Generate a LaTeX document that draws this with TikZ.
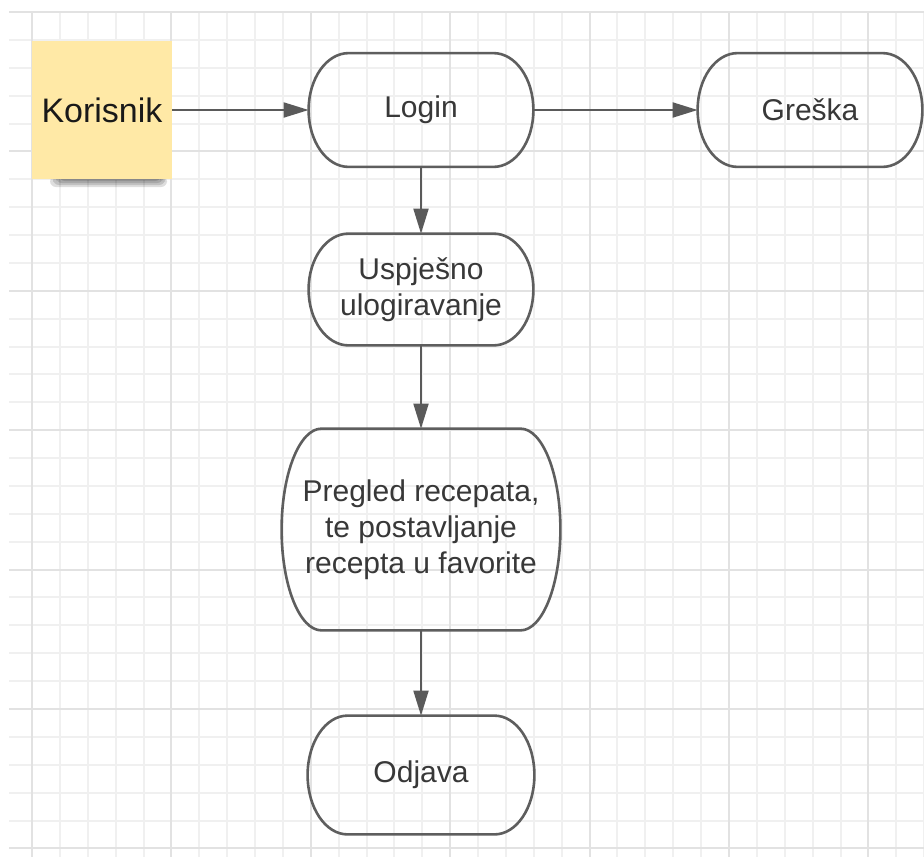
\documentclass[tikz,border=0pt]{standalone}
\usepackage{fontspec}
\setmainfont{Liberation Sans}
\usetikzlibrary{arrows.meta,calc}
\definecolor{grid_minor}{RGB}{240,240,240}
\definecolor{grid_major}{RGB}{226,226,226}
\definecolor{node_gray}{RGB}{94,94,94}
\definecolor{edge_gray}{RGB}{90,90,90}
\definecolor{text_gray}{RGB}{56,56,56}
\definecolor{note_yellow}{RGB}{255,233,166}

\begin{document}
\begin{tikzpicture}[x=0.5pt,y=-0.5pt,>={Triangle[length=12.5pt,width=7.5pt]},line join=round]
    \tikzstyle{term}=[inner sep=0pt, text=text_gray, align=center, font=\fontsize{15}{18}\selectfont]
    \tikzstyle{outline}=[draw=node_gray, line width=1.3pt]
    \tikzstyle{note}=[inner sep=0pt, fill=note_yellow, text=black!90, minimum width=70pt, minimum height=69pt, font=\fontsize{17}{20}\selectfont]
    \tikzstyle{flow}=[draw=edge_gray, line width=1pt, ->]

    \useasboundingbox (0,0) rectangle (924,857);
    \fill[white] (0,0) rectangle (924,857);

    % grid
    \foreach \i in {0,...,30}
        \draw[grid_minor, line width=1pt] (9,12+\i*27.88) -- (924,12+\i*27.88);
    \foreach \j in {0,...,32}
        \draw[grid_minor, line width=1pt] (32+\j*27.88,12) -- (32+\j*27.88,857);
    \foreach \i in {0,...,6}
        \draw[grid_major, line width=1pt] (9,12+\i*139.4) -- (924,12+\i*139.4);
    \foreach \j in {0,...,6}
        \draw[grid_major, line width=1pt] (32+\j*139.4,12) -- (32+\j*139.4,857);

    % sticky note with shadow
    \foreach \o in {0,1,2,3}
        \fill[black, opacity=0.13, rounded corners=3pt] (50+\o*3,176) rectangle (167-\o*2,187-\o*2);
    \node[note] (korisnik) at (102,110) {Korisnik};

    \node[term, minimum width=112pt, minimum height=56.5pt] (login)    at (421,110)   {Login};
    \node[term, minimum width=112pt, minimum height=56.5pt] (greska)   at (810,110)   {Greška};
    \node[term, minimum width=112pt, minimum height=55.5pt] (uspjesno) at (421,289.5) {Uspješno\\ulogiravanje};
    \node[term, minimum width=139pt, minimum height=100.5pt] (pregled) at (421,529.5) {Pregled recepata,\\te postavljanje\\recepta u favorite};
    \node[term, minimum width=113pt, minimum height=59pt]   (odjava)   at (421,775)   {Odjava};

    \foreach \s in {login,greska,uspjesno,pregled,odjava}
        \draw[outline] let \p1=(\s.north west), \p2=(\s.south east), \n1={(\y1-\y2)/2} in
            ([xshift=20pt]\s.north west) -- ([xshift=-20pt]\s.north east)
            arc[start angle=90, end angle=-90, x radius=20pt, y radius=\n1]
            -- ([xshift=20pt]\s.south west)
            arc[start angle=270, end angle=90, x radius=20pt, y radius=\n1] -- cycle;

    \path
     (korisnik) edge[flow] (login)
     (login)    edge[flow] (greska)
     (login)    edge[flow] (uspjesno)
     (uspjesno) edge[flow] (pregled)
     (pregled)  edge[flow] (odjava)
     ;
\end{tikzpicture}
\end{document}
